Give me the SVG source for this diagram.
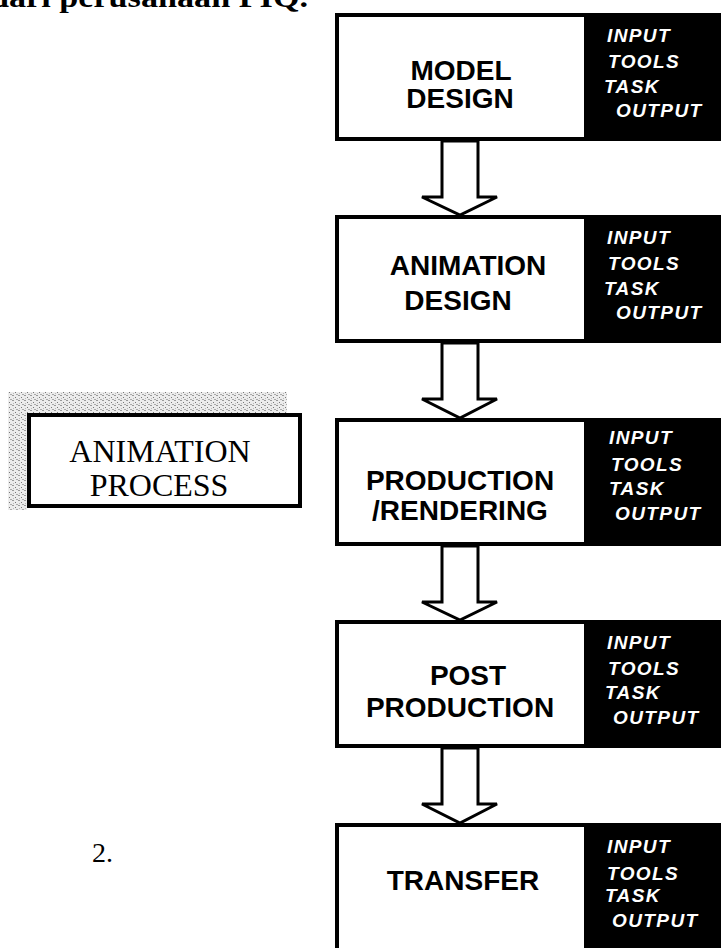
<svg xmlns="http://www.w3.org/2000/svg" width="721" height="948" viewBox="0 0 721 948">
<defs>
<style>
.box{fill:#fff;stroke:#000;stroke-width:4}
.blk{fill:#000}
.lbl{font-family:"Liberation Sans",Arial,sans-serif;font-weight:bold;font-size:28px;fill:#000;text-anchor:middle}
.side{font-family:"Liberation Sans",Arial,sans-serif;font-weight:bold;font-style:italic;font-size:19px;letter-spacing:1.4px;fill:#fff}
.arrow{fill:#fff;stroke:#000;stroke-width:3;stroke-linejoin:miter}
.serif{font-family:"Liberation Serif","Times New Roman",serif;fill:#000}
</style>
<pattern id="speck" width="6" height="5" patternUnits="userSpaceOnUse">
<rect width="6" height="5" fill="#ececec"/>
<rect x="0" y="0" width="2" height="1" fill="#999"/>
<rect x="3" y="2" width="1" height="1" fill="#777"/>
<rect x="4" y="4" width="2" height="1" fill="#aaa"/>
<rect x="1" y="3" width="1" height="1" fill="#bbb"/>
</pattern>
</defs>

<text class="serif" x="-10" y="7" font-size="30" font-weight="bold" textLength="318" lengthAdjust="spacingAndGlyphs">dari perusahaan PIQ.</text>

<g id="connectors">
<polygon class="arrow" points="442,141 442,197 422,197 460,215 497,197 478,197 478,141"/>
<polygon class="arrow" points="442,343 442,399 422,399 460,418 497,399 478,399 478,343"/>
<polygon class="arrow" points="442,546 442,602 422,602 460,620 497,602 478,602 478,546"/>
<polygon class="arrow" points="442,748 442,804 422,804 460,823 497,804 478,804 478,748"/>
</g>

<g id="model-design">
<rect class="box" x="337" y="15" width="420" height="124"/>
<rect class="blk" x="584" y="13" width="140" height="128"/>
<text class="lbl" x="461" y="80">MODEL</text>
<text class="lbl" x="460" y="108">DESIGN</text>
<text class="side" x="607" y="42">INPUT</text>
<text class="side" x="608" y="68">TOOLS</text>
<text class="side" x="604" y="93">TASK</text>
<text class="side" x="616" y="117">OUTPUT</text>
</g>

<g id="animation-design">
<rect class="box" x="337" y="217" width="420" height="124"/>
<rect class="blk" x="584" y="215" width="140" height="128"/>
<text class="lbl" x="468" y="275">ANIMATION</text>
<text class="lbl" x="458" y="310">DESIGN</text>
<text class="side" x="607" y="244">INPUT</text>
<text class="side" x="608" y="270">TOOLS</text>
<text class="side" x="604" y="295">TASK</text>
<text class="side" x="616" y="319">OUTPUT</text>
</g>

<g id="production-rendering">
<rect class="box" x="337" y="420" width="420" height="124"/>
<rect class="blk" x="584" y="418" width="140" height="128"/>
<text class="lbl" x="460" y="490">PRODUCTION</text>
<text class="lbl" x="460" y="520">/RENDERING</text>
<text class="side" x="609" y="444">INPUT</text>
<text class="side" x="611" y="471">TOOLS</text>
<text class="side" x="609" y="495">TASK</text>
<text class="side" x="615" y="520">OUTPUT</text>
</g>

<g id="post-production">
<rect class="box" x="337" y="622" width="420" height="124"/>
<rect class="blk" x="584" y="620" width="140" height="128"/>
<text class="lbl" x="468" y="685">POST</text>
<text class="lbl" x="460" y="717">PRODUCTION</text>
<text class="side" x="607" y="649">INPUT</text>
<text class="side" x="608" y="675">TOOLS</text>
<text class="side" x="605" y="699">TASK</text>
<text class="side" x="613" y="724">OUTPUT</text>
</g>

<g id="transfer">
<rect class="box" x="337" y="825" width="420" height="140"/>
<rect class="blk" x="584" y="823" width="140" height="130"/>
<text class="lbl" x="463" y="890">TRANSFER</text>
<text class="side" x="607" y="853">INPUT</text>
<text class="side" x="607" y="880">TOOLS</text>
<text class="side" x="605" y="902">TASK</text>
<text class="side" x="612" y="927">OUTPUT</text>
</g>

<g id="animation-process">
<polygon points="8,392 287,392 287,413 27,413 27,510 8,510" fill="url(#speck)"/>
<rect x="29" y="415" width="271" height="91" fill="#fff" stroke="#000" stroke-width="4"/>
<text class="serif" x="160" y="462" font-size="32" text-anchor="middle">ANIMATION</text>
<text class="serif" x="159" y="496" font-size="32" text-anchor="middle">PROCESS</text>
</g>

<text class="serif" x="92" y="862" font-size="28">2.</text>
</svg>
